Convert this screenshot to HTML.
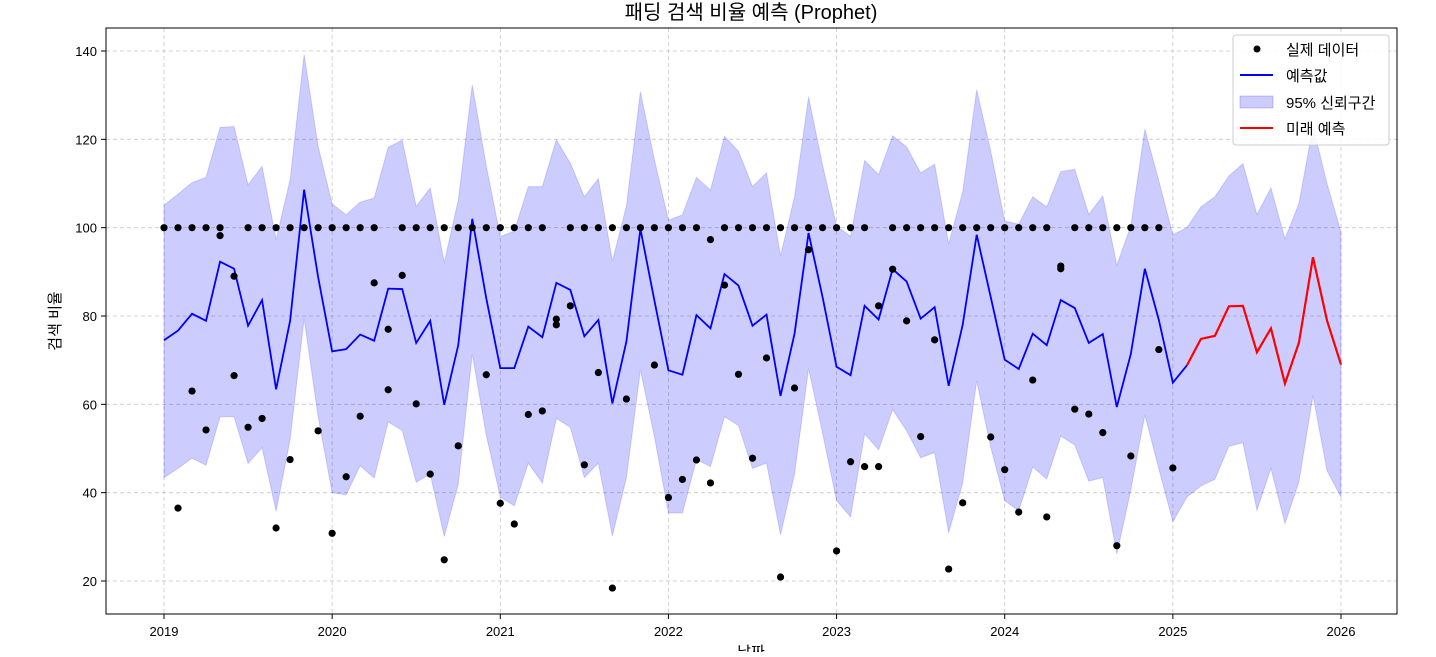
<!DOCTYPE html>
<html><head><meta charset="utf-8"><style>
body{margin:0;background:#fff;}
svg text{font-family:"Liberation Sans","Noto Sans CJK KR",sans-serif;}
</style></head><body>
<svg id="chart" width="1436" height="652" xmlns="http://www.w3.org/2000/svg">
<rect x="0" y="0" width="1436" height="652" fill="#fff"/>
<g id="grid"></g>
<g id="band"></g>
<g id="lines"></g>
<g id="dots"></g>
<rect x="106" y="28" width="1291" height="586" fill="none" stroke="#000" stroke-width="1"/>
<g id="axes"></g>
<text x="751" y="19" text-anchor="middle" font-size="20" fill="#000">패딩 검색 비율 예측 (Prophet)</text>
<text x="751" y="657" text-anchor="middle" font-size="15" fill="#000">날짜</text>
<text x="60" y="321" text-anchor="middle" font-size="15" fill="#000" transform="rotate(-90 60 321)">검색 비율</text>
<g>
<rect x="1233" y="35" width="156" height="110" rx="3" fill="#fff" fill-opacity="0.85" stroke="#ccc"/>
<g><circle cx="1257" cy="49" r="3.5" fill="#000"/><text x="1286" y="55" font-size="15">실제 데이터</text></g>
<g><line x1="1240" y1="75" x2="1273" y2="75" stroke="#0000ff" stroke-width="2"/><text x="1286" y="81" font-size="15">예측값</text></g>
<g><rect x="1240" y="96" width="33" height="12" fill="#0000ff" fill-opacity="0.2" stroke="#0000ff" stroke-opacity="0.2"/><text x="1286" y="108" font-size="15">95% 신뢰구간</text></g>
<g><line x1="1240" y1="128" x2="1273" y2="128" stroke="#ff0000" stroke-width="2"/><text x="1286" y="134" font-size="15">미래 예측</text></g>
</g>
</svg>
<script>
const yearLabels=["2019","2020","2021","2022","2023","2024","2025","2026"];
const yTicks=[20,40,60,80,100,120,140];
const yhat=[74.5,76.7,80.5,78.9,92.3,90.7,77.8,83.6,63.4,78.9,108.6,88.8,
72,72.5,75.8,74.4,86.2,86.1,73.9,78.9,59.9,73.4,102,84,
68.2,68.2,77.6,75.2,87.5,85.9,75.4,79.1,60.2,74.2,99.7,83.5,
67.7,66.7,80.2,77.2,89.5,86.9,77.8,80.3,61.9,76,98.8,84.3,
68.5,66.6,82.3,79.2,90.6,87.8,79.4,82,64.2,78,98.4,84.3,
70.1,68,76,73.4,83.6,81.8,73.9,75.9,59.4,71.4,90.7,79.1,
64.9,68.8];
const upper=[105.1,107.6,110.2,111.4,122.7,122.9,109.7,113.9,97.3,110.9,139.2,118.4,
105.4,102.9,105.8,106.7,118.2,119.8,104.8,109,92.1,106.2,132.3,114,
98,99.2,109.3,109.3,119.9,114.6,107,111.1,92.4,104.9,130.8,115.4,
101.7,102.9,111.4,108.5,120.7,117.3,109.3,112.4,93.6,107,129.6,114.2,
100.4,98,115.2,112,120.8,118.3,112.4,114.4,96.3,108.1,131.2,117.4,
101.5,100.8,107,104.7,112.7,113.2,103,107.2,91.5,100.4,122.3,110.6,
98.4,100,104.7,107,111.7,114.5,103,109,97.5,105.5,123,110,99];
const lower=[43.4,45.5,47.8,46.2,57.2,57.2,46.6,50.2,35.8,52,79.4,57.2,
40,39.5,46.1,43.3,56,54.1,42.4,44.2,30.1,41.9,71.4,53,
39,37,46.7,42.2,56.8,54.8,43.4,46.7,30.2,43.4,67.8,52.7,
35.4,35.4,47.5,45.9,57.2,55.2,45.5,46.7,30.5,44.2,68.1,53.5,
38.2,34.5,53.3,49.7,58.8,54,47.9,49.1,30.9,42.2,65.3,50.3,
38.2,35.9,45.8,43.1,52.8,50.8,42.6,43.4,26.1,40.6,57.6,45.4,
33.4,39,41.5,43,50.5,51.3,36,45.5,33,42.5,62,45,39];
const futureStart=73;
const future=[68.8,74.8,75.5,82.2,82.3,71.8,77.2,64.7,74,93.3,79,69];
const actual=[[100],[100,36.5],[100,63],[100,54.2],[100,98.2],[89,66.5],[100,54.8],[100,56.8],[100,32],[100,47.5],[100],[100,54],
[100,30.8],[100,43.6],[100,57.3],[100,87.5],[77,63.3],[100,89.2],[100,60.1],[100,44.2],[100,24.8],[100,50.6],[100],[100,66.7],
[100,37.6],[100,32.9],[100,57.7],[100,58.5],[79.3,78],[100,82.3],[100,46.3],[100,67.2],[100,18.4],[100,61.2],[100],[100,68.9],
[100,38.9],[100,43],[100,47.4],[97.3,42.2],[100,87],[100,66.8],[100,47.8],[100,70.5],[100,20.9],[100,63.7],[100,95],[100],
[100,26.8],[100,47],[100,45.9],[82.3,45.9],[100,90.6],[100,78.9],[100,52.7],[100,74.6],[100,22.7],[100,37.7],[100],[100,52.6],
[100,45.2],[100,35.6],[100,65.5],[100,34.5],[91.3,90.7],[100,58.9],[100,57.8],[100,53.6],[100,28],[100,48.3],[100],[100,72.4],
[45.6]];
const NS="http://www.w3.org/2000/svg";
const X=i=>164+i*(1341-164)/84;
const Y=v=>51+(140-v)*(581-51)/120;
function mk(tag,attrs,parent){const e=document.createElementNS(NS,tag);for(const k in attrs)e.setAttribute(k,attrs[k]);parent.appendChild(e);return e;}
const grid=document.getElementById('grid'),axes=document.getElementById('axes');
yearLabels.forEach((lab,j)=>{const x=X(j*12);
 const g=mk('line',{x1:x,y1:28,x2:x,y2:614,stroke:'#b0b0b0','stroke-dasharray':'4,3','stroke-width':0.8,opacity:0.7},grid);
 
 
 const t=mk('line',{x1:x,y1:614,x2:x,y2:619,stroke:'#000'},axes);
 
 
 const tx=mk('text',{x:x,y:636,'text-anchor':'middle','font-size':13,fill:'#000'},axes);tx.textContent=lab;
 
 
});
yTicks.forEach(v=>{const y=Y(v);
 const g=mk('line',{x1:106,y1:y,x2:1397,y2:y,stroke:'#b0b0b0','stroke-dasharray':'4,3','stroke-width':0.8,opacity:0.7},grid);
 
 
 const t=mk('line',{x1:101,y1:y,x2:106,y2:y,stroke:'#000'},axes);
 
 
 const tx=mk('text',{x:97,y:y+5,'text-anchor':'end','font-size':13,fill:'#000'},axes);tx.textContent=v;
 
 
});
let d='';upper.forEach((v,i)=>{d+=(i?'L':'M')+X(i)+','+Y(v);});
for(let i=lower.length-1;i>=0;i--)d+='L'+X(i)+','+Y(lower[i]);d+='Z';
const band=mk('path',{d:d,fill:'#0000ff','fill-opacity':0.2,stroke:'#0000ff','stroke-opacity':0.15},document.getElementById('band'));


const lines=document.getElementById('lines');
const bl=mk('polyline',{points:yhat.map((v,i)=>X(i)+','+Y(v)).join(' '),fill:'none',stroke:'#0000ff','stroke-width':1.8},lines);


const rl=mk('polyline',{points:future.map((v,i)=>X(futureStart+i)+','+Y(v)).join(' '),fill:'none',stroke:'#ff0000','stroke-width':2.2},lines);


const dots=document.getElementById('dots');
actual.forEach((vals,i)=>vals.forEach(v=>{const c=mk('circle',{cx:X(i),cy:Y(v),r:3.6,fill:'#000'},dots);
 
 
}));
</script>
</body></html>
